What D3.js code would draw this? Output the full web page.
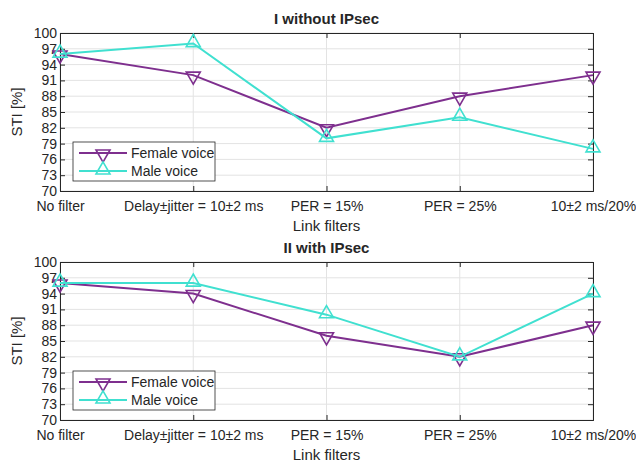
<!DOCTYPE html>
<html>
<head>
<meta charset="utf-8">
<script src="https://cdn.jsdelivr.net/npm/d3@7"></script>
<style>
  body { margin: 0; background: #fff; }
  text { font-family: "Liberation Sans", Arial, sans-serif; fill: #262626; }
</style>
</head>
<body>
<div id="chart"></div>
<script>
const categories = ['No filter', 'Delay\u00b1jitter = 10\u00b12 ms', 'PER = 15%', 'PER = 25%', '10\u00b12 ms/20%'];
const yTicks = [70, 73, 76, 79, 82, 85, 88, 91, 94, 97, 100];
const titles = ['I without IPsec', 'II with IPsec'];
const femaleWithout = [96, 92, 82, 88, 92];
const maleWithout = [96, 98, 80, 84, 78];
const femaleWith = [96, 94, 86, 82, 88];
const maleWith = [96, 96, 90, 82, 94];

const panels = [
    { title: titles[0], female: femaleWithout, male: maleWithout, top: 33 },
    { title: titles[1], female: femaleWith, male: maleWith, top: 262 }
];

const svg = d3.select('#chart')
    .append('svg')
    .attr('width', 636)
    .attr('height', 462);

const left = 60, right = 593, plotH = 158;
const purple = '#7E2F8E', cyan = '#40E0D0';

const x = d3.scalePoint()
    .domain(categories)
    .range([left, right]);

const tri = d3.symbol().type(d3.symbolTriangle).size(85);

panels.forEach(p => {
    const y = d3.scaleLinear()
        .domain([70, 100])
        .range([p.top + plotH, p.top]);

    const g = svg.append('g');

    // grid
    g.selectAll('.hgrid')
        .data(yTicks)
        .enter()
        .append('line')
        .attr('x1', left).attr('x2', right)
        .attr('y1', d => y(d)).attr('y2', d => y(d))
        .attr('stroke', '#e3e3e3');
    g.selectAll('.vgrid')
        .data(categories)
        .enter()
        .append('line')
        .attr('x1', d => x(d)).attr('x2', d => x(d))
        .attr('y1', p.top).attr('y2', p.top + plotH)
        .attr('stroke', '#e3e3e3');

    // axes
    g.append('g')
        .attr('transform', `translate(0, ${p.top + plotH})`)
        .call(d3.axisBottom(x).tickSize(-5).tickPadding(10));
    g.append('g')
        .attr('transform', `translate(${left}, 0)`)
        .call(d3.axisLeft(y).tickValues(yTicks).tickSize(-5).tickPadding(3));
    g.append('g')
        .attr('transform', `translate(0, ${p.top})`)
        .call(d3.axisTop(x).tickSize(-5).tickFormat(''));
    g.append('g')
        .attr('transform', `translate(${right}, 0)`)
        .call(d3.axisRight(y).tickValues(yTicks).tickSize(-5).tickFormat(''));
    g.selectAll('.domain, .tick line').attr('stroke', '#262626');
    g.selectAll('.tick text')
        .style('font-size', '14px')
        .style('font-family', '"Liberation Sans", Arial, sans-serif')
        .attr('fill', '#262626');

    // lines and markers
    const series = [
        { name: 'Female voice', values: p.female, color: purple, rot: 180 },
        { name: 'Male voice', values: p.male, color: cyan, rot: 0 }
    ];
    const line = d3.line()
        .x((d, i) => x(categories[i]))
        .y(d => y(d));

    series.forEach(s => {
        g.append('path')
            .datum(s.values)
            .attr('d', line)
            .attr('fill', 'none')
            .attr('stroke', s.color)
            .attr('stroke-width', 2);
        g.selectAll(null)
            .data(s.values)
            .enter()
            .append('path')
            .attr('d', tri)
            .attr('transform', (d, i) => `translate(${x(categories[i])}, ${y(d) + (s.rot ? 1 : -1)}) rotate(${s.rot})`)
            .attr('fill', 'none')
            .attr('stroke', s.color)
            .attr('stroke-width', 1.6);
    });

    // title and labels
    svg.append('text')
        .attr('x', (left + right) / 2)
        .attr('y', p.top - 9)
        .attr('text-anchor', 'middle')
        .style('font-size', '15px')
        .style('font-weight', 'bold')
        .attr('fill', '#000')
        .text(p.title);
    svg.append('text')
        .attr('x', (left + right) / 2)
        .attr('y', p.top + plotH + 40)
        .attr('text-anchor', 'middle')
        .style('font-size', '15px')
        .text('Link filters');
    svg.append('text')
        .attr('transform', `translate(22, ${p.top + plotH / 2}) rotate(-90)`)
        .attr('text-anchor', 'middle')
        .style('font-size', '15px')
        .text('STI [%]');

    // legend
    const lg = svg.append('g')
        .attr('transform', `translate(73, ${p.top + plotH - 49})`);
    lg.append('rect')
        .attr('width', 142).attr('height', 39)
        .attr('fill', '#fff')
        .attr('stroke', '#262626')
        .attr('stroke-width', 0.8);
    series.forEach((s, i) => {
        const ly = 11 + i * 18;
        lg.append('line')
            .attr('x1', 6).attr('x2', 54)
            .attr('y1', ly).attr('y2', ly)
            .attr('stroke', s.color)
            .attr('stroke-width', 2);
        lg.append('path')
            .attr('d', tri)
            .attr('transform', `translate(30, ${ly + (s.rot ? 1 : -1)}) rotate(${s.rot})`)
            .attr('fill', 'none')
            .attr('stroke', s.color)
            .attr('stroke-width', 1.6);
        lg.append('text')
            .attr('x', 58)
            .attr('y', ly + 5)
            .style('font-size', '14px')
            .text(s.name);
    });
});
</script>
</body>
</html>
